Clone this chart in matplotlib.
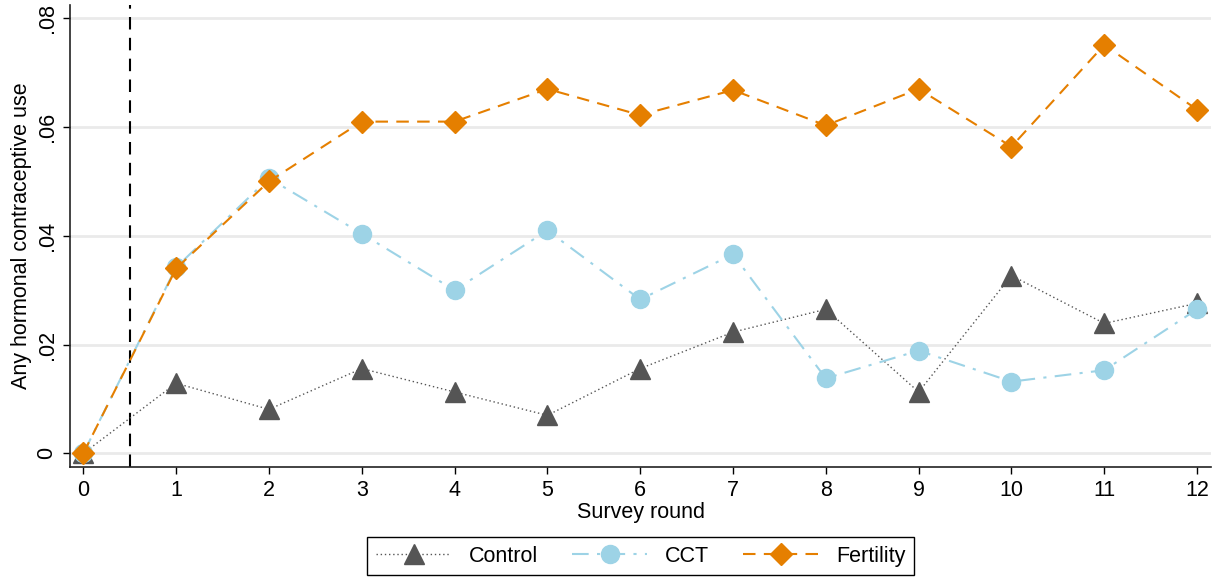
import matplotlib
matplotlib.use("Agg")
import matplotlib.pyplot as plt

rounds = list(range(13))
control = [0.0, 0.0129, 0.0081, 0.0156, 0.0113, 0.0070, 0.0156, 0.0223, 0.0265, 0.0113, 0.0327, 0.0239, 0.0276]
cct = [0.0, 0.0342, 0.0506, 0.0404, 0.0300, 0.0410, 0.0283, 0.0366, 0.0138, 0.0189, 0.0132, 0.0153, 0.0265]
fertility = [0.0, 0.0340, 0.0500, 0.0610, 0.0610, 0.0670, 0.0622, 0.0668, 0.0603, 0.0670, 0.0564, 0.0751, 0.0632]
yticks = [0, 0.02, 0.04, 0.06, 0.08]
ytick_labels = ["0", ".02", ".04", ".06", ".08"]

plt.rcParams['font.family'] = ['Liberation Sans', 'DejaVu Sans']
fs = 15.5

fig = plt.figure(figsize=(12.22, 5.79), dpi=100)
ax = fig.add_axes([0.0573, 0.1934, 0.9337, 0.7976])

for y in yticks:
    ax.axhline(y, color='#eaeaea', lw=2, zorder=0)
ax.axvline(0.5, color='black', lw=1.5, ls=(0, (6, 4)), zorder=1)

ax.plot(rounds, control, color='#555555', lw=1.0, ls=(0, (1, 2)), marker='^',
        markersize=14, markerfacecolor='#555555', markeredgecolor='#555555', label='Control', zorder=2)
ax.plot(rounds, cct, color='#9dd3e6', lw=1.5, ls=(0, (8, 4, 1.5, 4)), marker='o',
        markersize=13, markerfacecolor='#9dd3e6', markeredgecolor='#9dd3e6', label='CCT', zorder=3)
ax.plot(rounds, fertility, color='#e57f00', lw=1.5, ls=(0, (6, 4)), marker='D',
        markersize=11, markerfacecolor='#e57f00', markeredgecolor='#e57f00', label='Fertility', zorder=4)

ax.set_xlim(-0.143, 12.15)
ax.set_ylim(-0.0025, 0.0824)
ax.set_xticks(rounds)
ax.set_yticks(yticks)
ax.set_yticklabels(ytick_labels, rotation=90, va='center')
ax.tick_params(axis='both', labelsize=fs, direction='out', length=5, width=1, colors='black')
ax.tick_params(axis='x', pad=4)
ax.tick_params(axis='y', pad=4)

for s in ['top', 'right']:
    ax.spines[s].set_visible(False)
for s in ['left', 'bottom']:
    ax.spines[s].set_linewidth(1.2)
    ax.spines[s].set_color('#222222')

ax.set_xlabel('Survey round', fontsize=fs, labelpad=1)
ax.set_ylabel('Any hormonal contraceptive use', fontsize=fs, labelpad=3)

leg = ax.legend(loc='upper center', bbox_to_anchor=(0.5, -0.152), ncol=3, fontsize=fs,
                frameon=True, fancybox=False, edgecolor='black', framealpha=1,
                handlelength=3.5, columnspacing=1.6, handletextpad=0.8, borderpad=0.4,
                borderaxespad=0.0)
leg.get_frame().set_linewidth(1.0)

fig.savefig('out.png', dpi=100)
